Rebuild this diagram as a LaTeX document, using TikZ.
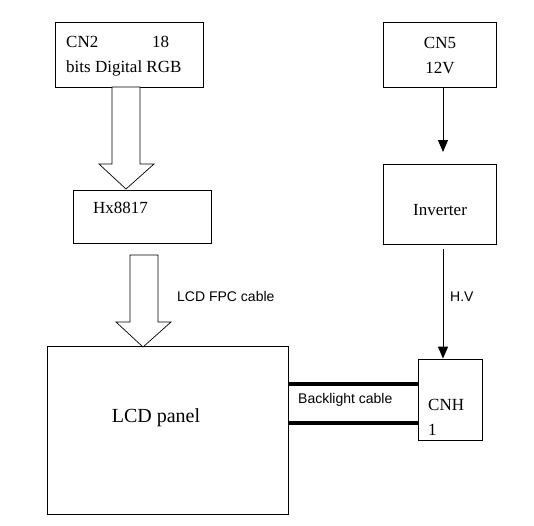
\documentclass[tikz,border=0pt]{standalone}
\usepackage{fontspec}
\setmainfont{Liberation Serif}
\newfontfamily\arialf{Liberation Sans}
\usetikzlibrary{arrows.meta}
\begin{document}
\begin{tikzpicture}[x=1pt,y=-1pt,
  box/.style={draw, line width=0.8pt, inner sep=0pt},
  txt/.style={inner sep=0pt, font=\fontsize{17}{20}\selectfont},
  sanstxt/.style={inner sep=0pt, font=\arialf\fontsize{14}{16}\selectfont},
  hollow/.style={draw, line width=0.7pt, fill=white, line join=miter},
  thinarr/.style={draw, line width=0.9pt, -{Triangle[length=12pt,width=10pt]}},
  cable/.style={draw, line width=4pt}]
\useasboundingbox (0,0) rectangle (534,525);
% boxes
\node[box, minimum width=148pt, minimum height=65pt] (cn2) at (129,54.5) {};
\node[box, minimum width=138pt, minimum height=53pt] (hx) at (142,216.5) {};
\node[box, minimum width=241pt, minimum height=168pt] (lcd) at (167.5,430) {};
\node[box, minimum width=113pt, minimum height=65pt] (cn5) at (439.5,54.5) {};
\node[box, minimum width=113pt, minimum height=80pt] (inv) at (439.5,204) {};
\node[box, minimum width=64pt, minimum height=81pt] (cnh) at (450,399.5) {};
% texts
\node[txt, anchor=west] (t1) at (66,42) {CN2};
\node[txt, anchor=west] (t2) at (152,42) {18};
\node[txt, anchor=west] (t3) at (66,68) {bits Digital RGB};
\node[txt, anchor=west] (t4) at (93,208) {Hx8817};
\node[inner sep=0pt, font=\fontsize{20}{24}\selectfont] (t5) at (156,418) {LCD panel};
\node[txt] (t6) at (440,43) {CN5};
\node[txt] (t7) at (440,68) {12V};
\node[txt] (t8) at (440,210) {Inverter};
\node[txt, anchor=west] (t9) at (428,405) {CNH};
\node[txt, anchor=west] (t10) at (428,430) {1};
\node[sanstxt, anchor=west] (s1) at (177,296) {LCD FPC cable};
\node[sanstxt, anchor=west] (s2) at (450,297) {H.V};
\node[sanstxt, anchor=west] (s3) at (298,400) {Backlight cable};
% hollow arrows
\draw[hollow] (112,87) -- (112,164) -- (99,164) -- (126,189) -- (154,164) -- (140,164) -- (140,87) -- cycle;
\draw[hollow] (130,255) -- (130,322) -- (116,322) -- (143,347) -- (171,322) -- (158,322) -- (158,255) -- cycle;
% thin arrows
\coordinate (p1) at (443,152);
\coordinate (p2) at (443,249);
\draw[thinarr] (cn5.south -| p1) -- (p1);
\draw[thinarr] (p2) -- (p2 |- cnh.north);
% backlight cable
\coordinate (y1) at (0,384);
\coordinate (y2) at (0,423);
\draw[cable] (lcd.east |- y1) -- (cnh.west |- y1);
\draw[cable] (lcd.east |- y2) -- (cnh.west |- y2);
\end{tikzpicture}
\end{document}
